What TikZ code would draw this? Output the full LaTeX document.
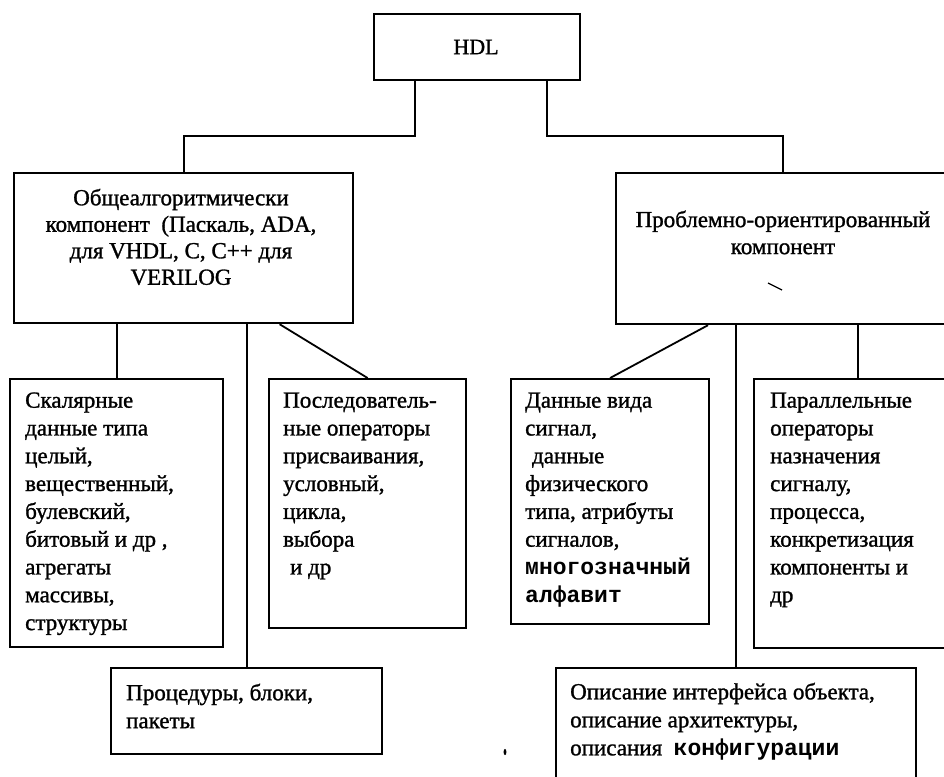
\documentclass[tikz,border=0pt]{standalone}
\usepackage{fontspec}
\setmainfont{Liberation Serif}[FakeBold=1.2]
\setmonofont{Liberation Mono}
\begin{document}
\begin{tikzpicture}[x=1pt,y=-1pt,
  box/.style={draw,line width=2.2pt,rectangle,inner sep=0pt,anchor=north west},
  conn/.style={line width=1.8pt},
  txt/.style={inner sep=0pt,anchor=north west,align=left,font=\fontsize{23}{27.8}\selectfont},
  ctxt/.style={inner sep=0pt,anchor=north,align=center,font=\fontsize{23}{26.5}\selectfont}]
\useasboundingbox (0,0) rectangle (944,776);
\clip (0,0) rectangle (944,776);
\fill[white] (0,0) rectangle (944,776);
% boxes
\node[box,minimum width=206pt,minimum height=66pt] (hdl) at (373,13) {};
\node[box,minimum width=339pt,minimum height=150pt] (alg) at (13,172) {};
\node[box,minimum width=334pt,minimum height=151pt] (prob) at (615,172) {};
\node[box,minimum width=213pt,minimum height=268pt] (scal) at (9,378) {};
\node[box,minimum width=197pt,minimum height=249pt] (seq) at (268,378) {};
\node[box,minimum width=271pt,minimum height=86pt] (proc) at (110,667) {};
\node[box,minimum width=198pt,minimum height=245pt] (data) at (510,378) {};
\node[box,minimum width=207pt,minimum height=269pt] (par) at (753,378) {};
\node[box,minimum width=360pt,minimum height=130pt] (desc) at (555,667) {};
% texts
\node[ctxt,anchor=center,font=\fontsize{22}{26}\selectfont] (thdl) at (476,47) {HDL};
\node[ctxt] (talg) at (181,186.5) {\strut Общеалгоритмически\\компонент\ \ (Паскаль, ADA,\\для VHDL, C, C++ для\\VERILOG};
\node[ctxt,font=\fontsize{23}{27}\selectfont] (tprob) at (783,208) {\strut Проблемно-ориентированный\\компонент};
\node[txt] (tscal) at (25,388) {\strut Скалярные\\данные типа\\целый,\\вещественный,\\булевский,\\битовый и др ,\\агрегаты\\массивы,\\структуры};
\node[txt] (tseq) at (283,388) {\strut Последователь-\\ные операторы\\присваивания,\\условный,\\цикла,\\выбора\\\hspace{0.3em}и др};
\node[txt] (tdata) at (525,388) {\strut Данные вида\\сигнал,\\\hspace{0.3em}данные\\физического\\типа, атрибуты\\сигналов,\\{\ttfamily\bfseries многозначный}\\{\ttfamily\bfseries алфавит}};
\node[txt] (tpar) at (770,388) {\strut Параллельные\\операторы\\назначения\\сигналу,\\процесса,\\конкретизация\\компоненты и\\др};
\node[txt,font=\fontsize{23}{28}\selectfont] (tproc) at (126,680.4) {\strut Процедуры, блоки,\\пакеты};
\node[txt,font=\fontsize{23}{28}\selectfont] (tdesc) at (570,679.5) {\strut Описание интерфейса объекта,\\описание архитектуры,\\описания\ \ {\ttfamily\bfseries конфигурации}};
% connectors
\draw[conn] ([xshift=42pt]hdl.south west) -- ++(0,55) -| (alg.north);
\draw[conn] ([xshift=-34pt]hdl.south east) -- ++(0,55) -| (prob.north);
\draw[conn] (alg.south -| scal.north) -- (scal.north);
\draw[conn] ([xshift=96pt]alg.south) -- (seq.north);
\draw[conn] (alg.south -| proc.north) -- (proc.north);
\draw[conn] ([xshift=93pt]prob.south west) -- (data.north);
\draw[conn] (prob.south -| desc.north) -- (desc.north);
\draw[conn] (prob.south -| par.north) -- (par.north);
% stray marks of the scan
\draw[line width=1.2pt] (768,283) -- (782,290);
\fill (505,752) ellipse (1.4 and 3.2);
\end{tikzpicture}
\end{document}
